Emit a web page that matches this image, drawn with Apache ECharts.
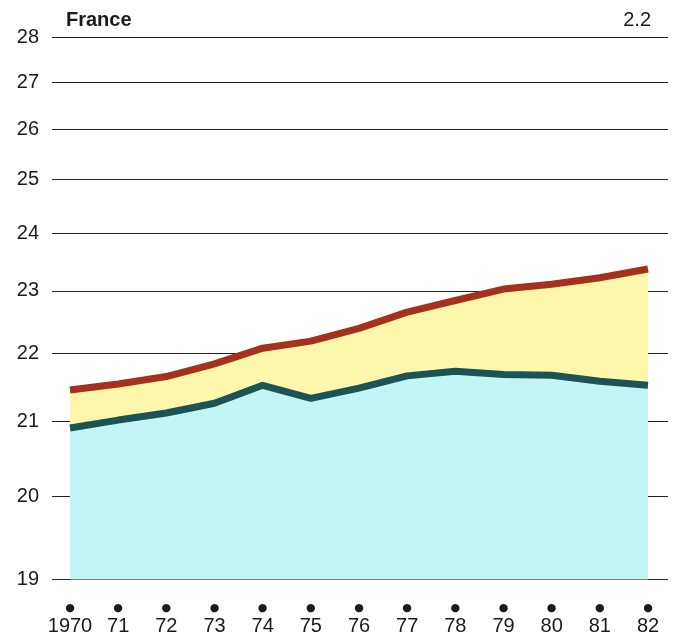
<!DOCTYPE html>
<html>
<head>
<meta charset="utf-8">
<script src="https://cdn.jsdelivr.net/npm/echarts@6/dist/echarts.min.js"></script>
<style>
  html, body { margin: 0; padding: 0; background: #fff; }
  #chart { width: 681px; height: 641px; }
</style>
</head>
<body>
<div id="chart"></div>
<script>
const years = [1970, 1971, 1972, 1973, 1974, 1975, 1976, 1977, 1978, 1979, 1980, 1981, 1982]
const yearLabels = ['1970', '71', '72', '73', '74', '75', '76', '77', '78', '79', '80', '81', '82']
const upper = [21.45, 21.54, 21.65, 21.84, 22.08, 22.19, 22.39, 22.65, 22.84, 23.03, 23.11, 23.22, 23.37]
const lower = [20.91, 21.02, 21.12, 21.26, 21.52, 21.33, 21.48, 21.66, 21.73, 21.68, 21.67, 21.58, 21.52]
const yTicks = [19, 20, 21, 22, 23, 24, 25, 26, 27, 28]

// the printed scale is compressed towards the top: log(v - 10.3)
const OFFSET = 10.3
const toAxis = v => Math.log(v - OFFSET)
const fromAxis = t => Math.exp(t) + OFFSET

const chart = echarts.init(document.getElementById('chart'))
const font = 'Liberation Sans, Arial, sans-serif'
const tickPos = yTicks.map(toAxis)
const yMin = toAxis(19) - 1e-6
const yMax = toAxis(28) + 1e-6

chart.setOption({
  animation: false,
  title: [
    {
      text: 'France',
      left: 61,
      top: 5,
      textStyle: { fontFamily: font, fontSize: 20, fontWeight: 'bold', color: '#1a1a1a' },
    },
    {
      text: '2.2',
      right: 25,
      top: 5,
      textStyle: { fontFamily: font, fontSize: 20, fontWeight: 'normal', color: '#1a1a1a' },
    },
  ],
  grid: { left: 52, right: 13, top: 37.7, bottom: 61.7 },
  xAxis: {
    type: 'value',
    min: 1970 - 18 / 48.17,
    max: 1982 + 20 / 48.17,
    axisLine: { show: false },
    axisTick: { show: false },
    splitLine: { show: false },
    axisLabel: {
      customValues: years,
      margin: 21,
      formatter: v => '{d|●}\n{n|' + yearLabels[years.indexOf(Math.round(v))] + '}',
      rich: {
        d: { fontFamily: 'DejaVu Sans', fontSize: 11, lineHeight: 15, color: '#1a1a1a', align: 'center' },
        n: { fontFamily: font, fontSize: 20, lineHeight: 22, color: '#1a1a1a', align: 'center' },
      },
    },
  },
  yAxis: {
    type: 'value',
    min: yMin,
    max: yMax,
    axisLine: { show: false },
    axisTick: { show: false, customValues: tickPos },
    axisLabel: {
      customValues: tickPos,
      margin: 13,
      fontFamily: font,
      fontSize: 20,
      color: '#1a1a1a',
      formatter: v => String(Math.round(fromAxis(v))),
    },
    splitLine: { show: false },
  },
  series: [
    {
      // grid rules, kept underneath the filled areas
      type: 'line',
      data: [],
      z: 1,
      markLine: {
        silent: true,
        symbol: 'none',
        precision: 8,
        label: { show: false },
        lineStyle: { color: '#222', width: 1.2, type: 'solid' },
        data: tickPos.map(t => ({ yAxis: t })),
      },
    },
    {
      type: 'line',
      data: years.map((y, i) => [y, toAxis(upper[i])]),
      symbol: 'none',
      lineStyle: { color: '#a5311d', width: 7 },
      areaStyle: { color: '#fcf7aa', opacity: 1, origin: 'start' },
      z: 10,
    },
    {
      type: 'line',
      data: years.map((y, i) => [y, toAxis(lower[i])]),
      symbol: 'none',
      lineStyle: { color: '#1b5357', width: 7 },
      areaStyle: { color: '#c3f5f6', opacity: 1, origin: 'start' },
      z: 11,
    },
  ],
})
</script>
</body>
</html>
